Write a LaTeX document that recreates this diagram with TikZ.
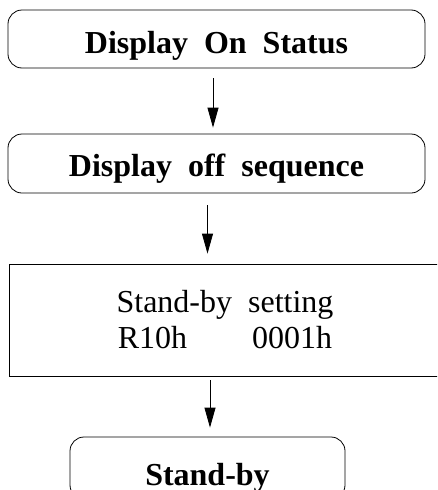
\documentclass[tikz,border=0pt]{standalone}
\usepackage{fontspec}
\setmainfont{Liberation Serif}
\usetikzlibrary{arrows, arrows.meta}

\begin{document}
\begin{tikzpicture}[x=1pt, y=-1pt, >={Triangle[length=20pt, width=11pt]}, line width=0.8pt,
  roundbox/.style={draw, rounded corners=14pt, inner sep=0pt, text depth=0pt, font=\fontsize{32}{36}\selectfont\bfseries},
  plainbox/.style={draw, inner sep=0pt, align=center, font=\fontsize{32}{36}\selectfont}]
\clip (0,0) rectangle (437,490);
\node[roundbox, minimum width=417pt, minimum height=58pt, text height=28pt] (on) at (216.5,39) {Display~~On~~Status};
\node[roundbox, minimum width=417pt, minimum height=59pt, text height=26.4pt] (off) at (216.5,163.5) {Display~~off~~sequence};
\node[plainbox, minimum width=432pt, minimum height=112pt] (set) at (225,320) {Stand-by~~setting\\R10h\hspace{65pt}0001h};
\node[roundbox, minimum width=275pt, minimum height=62pt, text height=34pt] (sb) at (207.5,468) {Stand-by};
% arrows
\draw[->, shorten <=10pt, shorten >=6pt] ([xshift=-3.5pt]on.south) -- ([xshift=-3.5pt]on.south |- off.north);
\draw[->, shorten <=12pt, shorten >=10pt] ([xshift=-9pt]off.south) -- ([xshift=-9pt]off.south |- set.north);
\draw[->, shorten <=4pt, shorten >=9pt] ([xshift=-15pt]set.south) -- ([xshift=-15pt]set.south |- sb.north);
\end{tikzpicture}
\end{document}
